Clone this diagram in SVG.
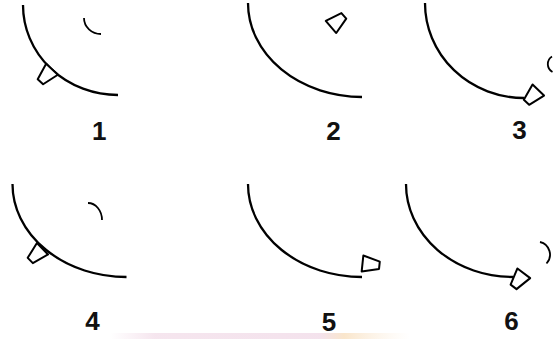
<svg xmlns="http://www.w3.org/2000/svg" xmlns:xlink="http://www.w3.org/1999/xlink" width="553" height="339" viewBox="0 0 553 339">
<style>
.arc{fill:none;stroke:#000;stroke-width:2.3;stroke-linecap:butt}
.small{fill:none;stroke:#000;stroke-width:1.8}
.cupf{fill:#fff;stroke:#000;stroke-width:2;stroke-linejoin:round}
.lbl{font-family:"Liberation Sans",Arial,sans-serif;font-weight:bold;font-size:26px;fill:#111;text-anchor:middle}
</style>
<defs>
<path id="cup" d="M-8,0 L8,0 L3.7,17 L-3.7,17 Z"/>
<linearGradient id="wm" x1="0" y1="0" x2="1" y2="0">
<stop offset="0" stop-color="#f3dfea" stop-opacity="0"/>
<stop offset="0.15" stop-color="#f3dfea" stop-opacity="0.8"/>
<stop offset="0.7" stop-color="#f1dbe8" stop-opacity="0.8"/>
<stop offset="0.78" stop-color="#f9e3c6" stop-opacity="0.9"/>
<stop offset="1" stop-color="#fbeede" stop-opacity="0"/>
</linearGradient>
</defs>
<rect width="553" height="339" fill="#fff"/>
<rect x="110" y="333" width="300" height="6" fill="url(#wm)"/>
<g id="panel1">
<path class="arc" d="M23,5 A95,90 0 0 0 118,95"/>
<path class="small" d="M84,18 A17,16 0 0 0 101,34"/>
<use xlink:href="#cup" class="cupf" transform="translate(52,69.3) rotate(43)"/>
<text class="lbl" x="99.3" y="140">1</text>
</g>
<g id="panel2">
<path class="arc" d="M248,3 A114,94 0 0 0 362,97"/>
<use xlink:href="#cup" class="cupf" transform="translate(331,27) rotate(-131)"/>
<text class="lbl" x="333.5" y="140">2</text>
</g>
<g id="panel3">
<path class="arc" d="M425,3 A99,95 0 0 0 524,98"/>
<path class="small" d="M552,56.5 A9,9 0 0 0 552.5,72"/>
<use xlink:href="#cup" class="cupf" transform="translate(538.3,90) rotate(44)"/>
<text class="lbl" x="519.5" y="139">3</text>
</g>
<g id="panel4">
<path class="arc" d="M12.5,184 A114,93 0 0 0 126.5,277"/>
<path class="small" d="M88,203 A14,17 0 0 1 102,220"/>
<use xlink:href="#cup" class="cupf" transform="translate(42.5,248.7) rotate(46)"/>
<text class="lbl" x="92.5" y="330">4</text>
</g>
<g id="panel5">
<path class="arc" d="M248,184 A114,93 0 0 0 362,277"/>
<use xlink:href="#cup" class="cupf" transform="translate(362.5,263.5) rotate(-84)"/>
<text class="lbl" x="329" y="331">5</text>
</g>
<g id="panel6">
<path class="arc" d="M406,184 A107,93 0 0 0 513,277"/>
<path class="small" d="M540,242 A13,13 0 0 1 546.5,263.5"/>
<use xlink:href="#cup" class="cupf" transform="translate(523.8,273.3) rotate(37)"/>
<text class="lbl" x="511.5" y="330">6</text>
</g>
</svg>
